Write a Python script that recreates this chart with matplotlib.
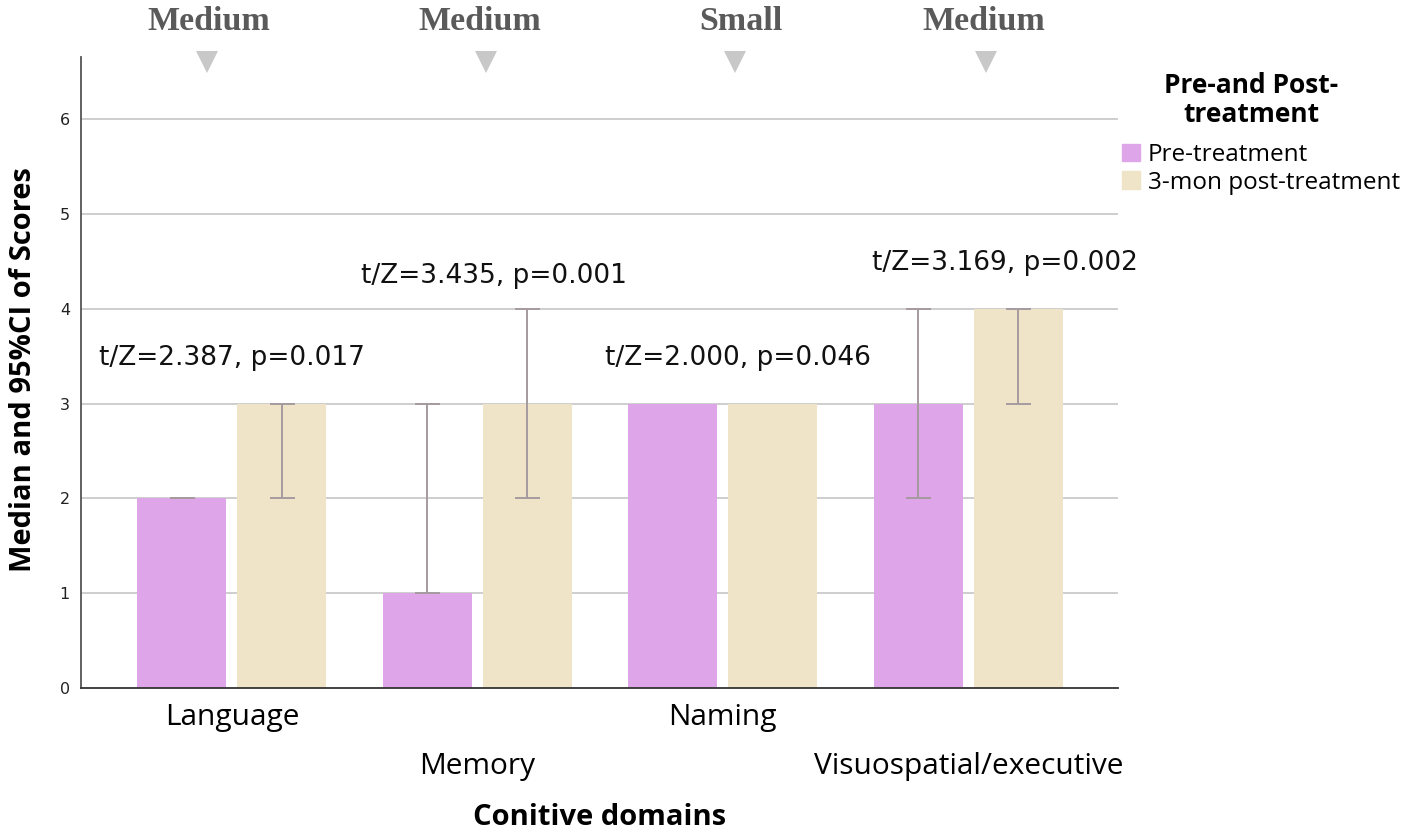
import matplotlib
matplotlib.use("Agg")
import matplotlib.pyplot as plt
import numpy as np
from matplotlib.lines import Line2D
from matplotlib.patches import Patch

# ---- data ----
categories = ["Language", "Memory", "Naming", "Visuospatial/executive"]
pre_median = [2, 1, 3, 3]
post_median = [3, 3, 3, 4]
pre_ci_low = [2, 1, np.nan, 2]
pre_ci_high = [2, 3, np.nan, 4]
post_ci_low = [2, 2, np.nan, 3]
post_ci_high = [3, 4, np.nan, 4]
stat_labels = ["t/Z=2.387, p=0.017", "t/Z=3.435, p=0.001",
               "t/Z=2.000, p=0.046", "t/Z=3.169, p=0.002"]
effect_labels = ["Medium", "Medium", "Small", "Medium"]
series_names = ["Pre-treatment", "3-mon post-treatment"]
legend_title = "Pre-and Post-\ntreatment"

# ---- layout / style ----
W, H = 1418, 838
fig = plt.figure(figsize=(W / 100, H / 100), dpi=100)
ax = fig.add_axes([81 / W, 1 - 688 / H, (1118 - 81) / W, (688 - 57) / H])

c_pre = "#dea6e9"
c_post = "#efe4c8"
c_err = "#a59a9e"
sans = ["Open Sans", "DejaVu Sans"]

x = np.arange(len(categories))
bw = 0.3625
off = 0.2037

ax.bar(x - off, pre_median, bw, color=c_pre, zorder=2)
ax.bar(x + off, post_median, bw, color=c_post, zorder=2)

def draw_err(xpos, med, lo, hi):
    med = np.array(med, float); lo = np.array(lo, float); hi = np.array(hi, float)
    ok = ~np.isnan(lo)
    yerr = np.vstack([med[ok] - lo[ok], hi[ok] - med[ok]])
    ax.errorbar(xpos[ok], med[ok], yerr=yerr, fmt="none", ecolor=c_err,
                elinewidth=1.4, capsize=9, capthick=1.4, zorder=3)

draw_err(x - off, pre_median, pre_ci_low, pre_ci_high)
draw_err(x + off, post_median, post_ci_low, post_ci_high)

ax.set_xlim(-0.615, 3.61)
ax.set_ylim(0, 6.654)
ax.set_yticks(range(0, 7))
ax.tick_params(axis="y", length=0, pad=8, labelsize=11.5, labelcolor="#222222")
for yv in range(1, 7):
    ax.axhline(yv, color="#c6c6c6", lw=1.2, zorder=1)

# staggered category labels
ax.set_xticks(x[0::2])
ax.set_xticklabels(categories[0::2], family=sans, fontsize=21.5)
ax.set_xticks(x[1::2], minor=True)
ax.set_xticklabels(categories[1::2], minor=True, family=sans, fontsize=21.5)
ax.tick_params(axis="x", which="major", length=0, pad=11)
ax.tick_params(axis="x", which="minor", length=0, pad=46)

for s in ["top", "right"]:
    ax.spines[s].set_visible(False)
ax.spines["left"].set_color("#555555")
ax.spines["bottom"].set_color("#333333")
ax.spines["left"].set_linewidth(1.3)
ax.spines["bottom"].set_linewidth(1.3)

ax.set_ylabel("Median and 95%CI of Scores", fontsize=21, fontweight="bold",
              family=sans)
ax.yaxis.set_label_coords(-0.0555, 0.505)
ax.yaxis.label.set_va("center")
ax.set_xlabel("Conitive domains", fontsize=21, fontweight="bold", family=sans)
ax.xaxis.set_label_coords(0.5, -0.206)
ax.xaxis.label.set_va("center")

# statistic annotations
stat_x = [0.0, 1.067, 2.06, 3.15]
stat_y = [3.48, 4.345, 3.48, 4.48]
for sx, sy, s in zip(stat_x, stat_y, stat_labels):
    ax.text(sx, sy, s, ha="center", va="center", fontsize=19, color="#111111")

# effect size labels and triangles (figure pixel positions)
eff_text_x = [209, 480, 741, 984]
tri_x = [207, 486, 735, 986]
for tx, lx, s in zip(tri_x, eff_text_x, effect_labels):
    fig.text(lx / W, 1 - 21 / H, s, ha="center", va="center", fontsize=24.5,
             fontweight="bold", family="Liberation Serif", color="#5a5a5a")
    fig.add_artist(Line2D([tx / W], [1 - 62 / H], marker="v", markersize=16,
                          color="#c8c8c8", markeredgewidth=0,
                          transform=fig.transFigure))

# legend
handles = [Patch(color=c_pre), Patch(color=c_post)]
leg = fig.legend(handles, series_names, loc="upper left",
                 bbox_to_anchor=(1122 / W, 1 - 143 / H), frameon=False,
                 borderpad=0, borderaxespad=0, handlelength=0.75, handleheight=0.75,
                 handletextpad=0.3, labelspacing=0.15,
                 prop={"size": 17.5, "family": sans})
fig.text(1251 / W, 1 - 100 / H, legend_title, ha="center", va="center",
         fontsize=19, fontweight="bold", linespacing=1.05, family=sans)

fig.savefig("out.png", dpi=100)
